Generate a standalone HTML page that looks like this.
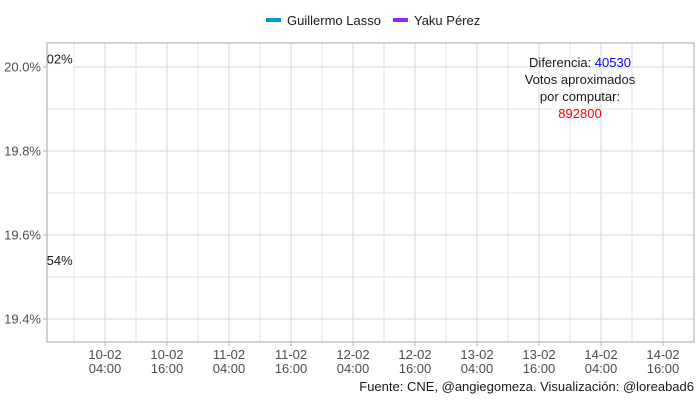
<!DOCTYPE html>
<html><head><meta charset="utf-8"><style>
html,body{margin:0;background:#fff;width:700px;height:400px;overflow:hidden}
svg{display:block;font-family:"Liberation Sans",sans-serif}
</style></head><body>
<svg id="chart" width="700" height="400">
<defs><clipPath id="clip"><rect x="47" y="43" width="647" height="299"/></clipPath></defs>
<g id="grid"></g>
<g id="marks" clip-path="url(#clip)"></g>
<rect x="47" y="43" width="647" height="299" fill="none" stroke="#b3b3b3" stroke-width="1.2"/>
<g id="yaxis"></g>
<g id="xaxis"></g>
<g>
<rect x="266" y="18" width="15" height="4" fill="#0099cc"/>
<text x="287" y="25" font-size="13" fill="#1a1a1a">Guillermo Lasso</text>
<rect x="393" y="18" width="15" height="4" fill="#a020f0"/>
<text x="414" y="25" font-size="13" fill="#1a1a1a">Yaku Pérez</text>
</g>
<g font-size="13" text-anchor="middle">
<text x="580" y="67" fill="#1a1a1a">Diferencia: <tspan fill="#0000ff">40530</tspan></text>
<text x="580" y="84" fill="#1a1a1a">Votos aproximados</text>
<text x="580" y="101" fill="#1a1a1a">por computar:</text>
<text x="580" y="118" fill="#ff0000">892800</text>
</g>
<text x="694" y="391" font-size="13" text-anchor="end" fill="#1a1a1a">Fuente: CNE, @angiegomeza. Visualización: @loreabad6</text>
</svg>
<script>
const yTicks=[19.4,19.6,19.8,20.0];
const yMinor=[19.5,19.7,19.9];
const xTickHours=[4,16,28,40,52,64,76,88,100,112];
const xTickLabels=[["10-02","04:00"],["10-02","16:00"],["11-02","04:00"],["11-02","16:00"],["12-02","04:00"],["12-02","16:00"],["13-02","04:00"],["13-02","16:00"],["14-02","04:00"],["14-02","16:00"]];
const xMinorHours=[-2,10,22,34,46,58,70,82,94,106,118];
const lassoHours=[-16,-13,-10];
const lassoValues=[19.5,19.52,19.54];
const perezHours=[-16,-13,-10];
const perezValues=[20.05,20.03,20.02];
const lastLabels=["19.54%","20.02%"];
const NS="http://www.w3.org/2000/svg";
function X(h){return 105+(h-4)*62/12;}
function Y(v){return 67+(20-v)*420;}
function mk(tag,attrs,parent){const e=document.createElementNS(NS,tag);for(const k in attrs)e.setAttribute(k,attrs[k]);parent.appendChild(e);return e;}
const grid=document.getElementById('grid'),marks=document.getElementById('marks'),ya=document.getElementById('yaxis'),xa=document.getElementById('xaxis');
yMinor.forEach(v=>{const l=mk('line',{x1:47,x2:694,y1:Y(v),y2:Y(v),stroke:'#e3e3e3','stroke-width':1},grid);

});
xMinorHours.forEach(h=>{if(X(h)<47||X(h)>694)return;const l=mk('line',{x1:X(h),x2:X(h),y1:43,y2:342,stroke:'#e3e3e3','stroke-width':1},grid);

});
yTicks.forEach(v=>{const l=mk('line',{x1:47,x2:694,y1:Y(v),y2:Y(v),stroke:'#dedede','stroke-width':1.2},grid);


const t=mk('line',{x1:43,x2:47,y1:Y(v),y2:Y(v),stroke:'#b3b3b3'},ya);


const tx=mk('text',{x:41,y:Y(v)+4.5,'font-size':13,'text-anchor':'end',fill:'#4d4d4d'},ya);tx.textContent=v.toFixed(1)+'%';

});
xTickHours.forEach((h,i)=>{const l=mk('line',{x1:X(h),x2:X(h),y1:43,y2:342,stroke:'#dedede','stroke-width':1.2},grid);


const t=mk('line',{x1:X(h),x2:X(h),y1:342,y2:346,stroke:'#b3b3b3'},xa);


const tx=mk('text',{x:X(h),y:359,'font-size':13,'text-anchor':'middle',fill:'#4d4d4d'},xa);


const a=mk('tspan',{x:X(h),dy:0},tx);a.textContent=xTickLabels[i][0];
const b=mk('tspan',{x:X(h),dy:14},tx);b.textContent=xTickLabels[i][1];});
function line(hs,vs,color,name){const p=mk('polyline',{points:hs.map((h,i)=>X(h)+','+Y(vs[i])).join(' '),fill:'none',stroke:color,'stroke-width':1.5},marks);

}
line(lassoHours,lassoValues,'#0099cc','lasso-line');
line(perezHours,perezValues,'#a020f0','perez-line');
[[lassoHours,lassoValues,lastLabels[0]],[perezHours,perezValues,lastLabels[1]]].forEach(([hs,vs,lab])=>{
const n=hs.length-1,x=X(hs[n]),y=Y(vs[n]);
const r=mk('rect',{x:x-10,y:y-8,width:51,height:17,fill:'#fff'},marks);


const t=mk('text',{x:x+18,y:y+5,'font-size':13,'text-anchor':'middle',fill:'#1a1a1a'},marks);t.textContent=lab;

});
</script>
</body></html>
